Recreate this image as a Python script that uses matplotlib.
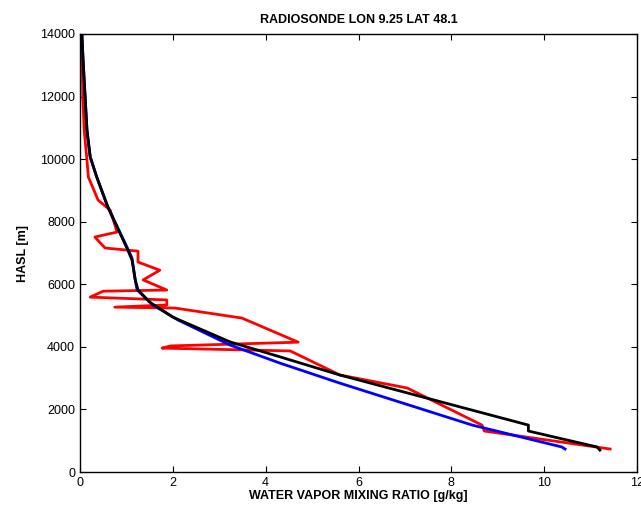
import matplotlib.pyplot as plt

plt.rcParams["font.family"] = ["Liberation Sans", "DejaVu Sans"]

# radiosonde profile (red)
sonde_q = [11.42, 8.71, 8.66, 7.05, 5.6, 4.53, 1.77, 1.95, 4.70, 3.49, 2.05, 0.75,
           1.87, 1.87, 0.22, 0.5, 1.87, 1.36, 1.72, 1.25, 1.25, 0.54, 0.32, 0.80,
           0.65, 0.39, 0.18, 0.15, 0.09, 0.06, 0.04]
sonde_z = [735, 1310, 1500, 2685, 3100, 3870, 3960, 4030, 4150, 4920, 5240, 5270,
           5340, 5500, 5590, 5780, 5817, 6140, 6450, 6710, 7060, 7160, 7510, 7670,
           8370, 8690, 9430, 9970, 10930, 12000, 14000]

# model profile (blue)
model_q = [10.45, 10.38, 8.45, 5.6, 4.31, 3.23, 2.11, 1.57, 1.23, 1.19, 1.12, 0.97,
           0.6, 0.36, 0.22, 0.15, 0.11, 0.07, 0.04]
model_z = [735, 800, 1500, 2840, 3480, 4060, 4860, 5340, 5820, 6140, 6840, 7320,
           8470, 9430, 10070, 10930, 12000, 13070, 13950]

# interpolated profile (black)
interp_q = [11.2, 11.14, 9.66, 9.66, 5.6, 4.31, 3.23, 2.0, 1.5, 1.25, 1.19, 1.12,
            1.01, 0.6, 0.36, 0.22, 0.15, 0.11, 0.07, 0.04]
interp_z = [700, 800, 1310, 1500, 3100, 3680, 4160, 4950, 5430, 5820, 6140, 6780,
            7160, 8470, 9430, 10070, 10930, 12000, 13070, 14000]

fig = plt.figure(figsize=(6.41, 5.05), dpi=100)
ax = fig.add_axes([0.1248, 0.0653, 0.869, 0.8674])

ax.plot(sonde_q, sonde_z, color="red", linewidth=2)
ax.plot(model_q, model_z, color="blue", linewidth=2)
ax.plot(interp_q, interp_z, color="black", linewidth=2)

ax.set_xlim(0, 12)
ax.set_ylim(0, 14000)
ax.set_xticks(range(0, 13, 2))
ax.set_yticks(range(0, 14001, 2000))
ax.tick_params(direction="in", top=True, right=True, labelsize=9, length=4)
for s in ax.spines.values():
    s.set_linewidth(1)

ax.set_title("RADIOSONDE LON 9.25 LAT 48.1", fontsize=9, fontweight="bold", pad=8)
ax.set_xlabel("WATER VAPOR MIXING RATIO [g/kg]", fontsize=9, fontweight="bold", labelpad=1)
ax.set_ylabel("HASL [m]", fontsize=9, fontweight="bold", labelpad=8)

fig.savefig("out.png", dpi=100)
